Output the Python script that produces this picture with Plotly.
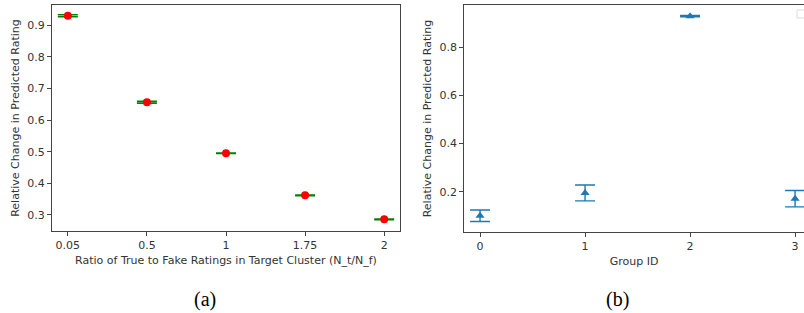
import plotly.graph_objects as go

# Panel (a)
ratio_labels = ["0.05", "0.5", "1", "1.75", "2"]
ratio_values = [0.930, 0.656, 0.495, 0.362, 0.286]
ratio_errors = [0.003, 0.003, 0.001, 0.001, 0.001]

# Panel (b)
group_ids = [0, 1, 2, 3]
group_values = [0.100, 0.195, 0.928, 0.171]
group_errors = [0.024, 0.033, 0.003, 0.034]

W, H = 804, 313
fig = go.Figure()

fig.add_trace(go.Scatter(
    x=list(range(len(ratio_labels))), y=ratio_values, mode="markers",
    marker=dict(color="red", size=8, symbol="circle"),
    error_y=dict(type="data", array=ratio_errors, color="green", thickness=1.6, width=10),
    xaxis="x", yaxis="y", showlegend=False, cliponaxis=False))

fig.add_trace(go.Scatter(
    x=group_ids, y=group_values, mode="markers",
    marker=dict(color="#1f77b4", size=8, symbol="triangle-up"),
    error_y=dict(type="data", array=group_errors, color="#1f77b4", thickness=1.4, width=10),
    xaxis="x2", yaxis="y2", showlegend=False, cliponaxis=False))

def px_x(v):
    return v / W

def px_y(v):
    return 1 - v / H

axis_common = dict(showgrid=False, zeroline=False, showline=True, linecolor="#444",
                   linewidth=1, ticks="outside", ticklen=4, tickcolor="#444", automargin=False,
                   tickfont=dict(family="DejaVu Sans", size=11, color="#333"))
title_font = dict(family="DejaVu Sans", size=11, color="#333")

fig.update_layout(
    width=W, height=H, margin=dict(l=0, r=0, t=0, b=0),
    paper_bgcolor="white", plot_bgcolor="white",
    xaxis=dict(domain=[px_x(52), px_x(400)], range=[-0.2, 4.2], mirror=True,
               tickvals=list(range(len(ratio_labels))), ticktext=ratio_labels,
               title=dict(text="Ratio of True to Fake Ratings in Target Cluster (N_t/N_f)",
                          font=title_font, standoff=5),
               anchor="y", **axis_common),
    yaxis=dict(domain=[px_y(231), px_y(5)], range=[0.249, 0.964], mirror=True,
               tickvals=[0.3, 0.4, 0.5, 0.6, 0.7, 0.8, 0.9],
               title=dict(text="Relative Change in Predicted Rating", font=title_font, standoff=5),
               anchor="x", **axis_common),
    xaxis2=dict(domain=[px_x(464.3), 1.0], range=[-0.15, 3.085], mirror=True,
                tickvals=group_ids,
                title=dict(text="Group ID", font=title_font, standoff=5),
                anchor="y2", **axis_common),
    yaxis2=dict(domain=[px_y(231.7), px_y(5.3)], range=[0.034, 0.973], mirror=False,
                tickvals=[0.2, 0.4, 0.6, 0.8],
                title=dict(text="Relative Change in Predicted Rating", font=title_font, standoff=5),
                anchor="x2", **axis_common),
    annotations=[
        dict(text="(a)", x=px_x(205), y=px_y(299), xref="paper", yref="paper",
             xanchor="center", yanchor="middle",
             showarrow=False, font=dict(family="Liberation Serif", size=20, color="black")),
        dict(text="(b)", x=px_x(617), y=px_y(299), xref="paper", yref="paper",
             xanchor="center", yanchor="middle",
             showarrow=False, font=dict(family="Liberation Serif", size=20, color="black")),
    ],
    shapes=[
        dict(type="rect", xref="paper", yref="paper", x0=px_x(797), x1=px_x(810),
             y0=px_y(18), y1=px_y(10), line=dict(color="#ddd", width=1), fillcolor="white"),
    ],
)

fig.write_html("out.html", config={"displayModeBar": False},
               post_script="document.body.style.margin='0px';")
